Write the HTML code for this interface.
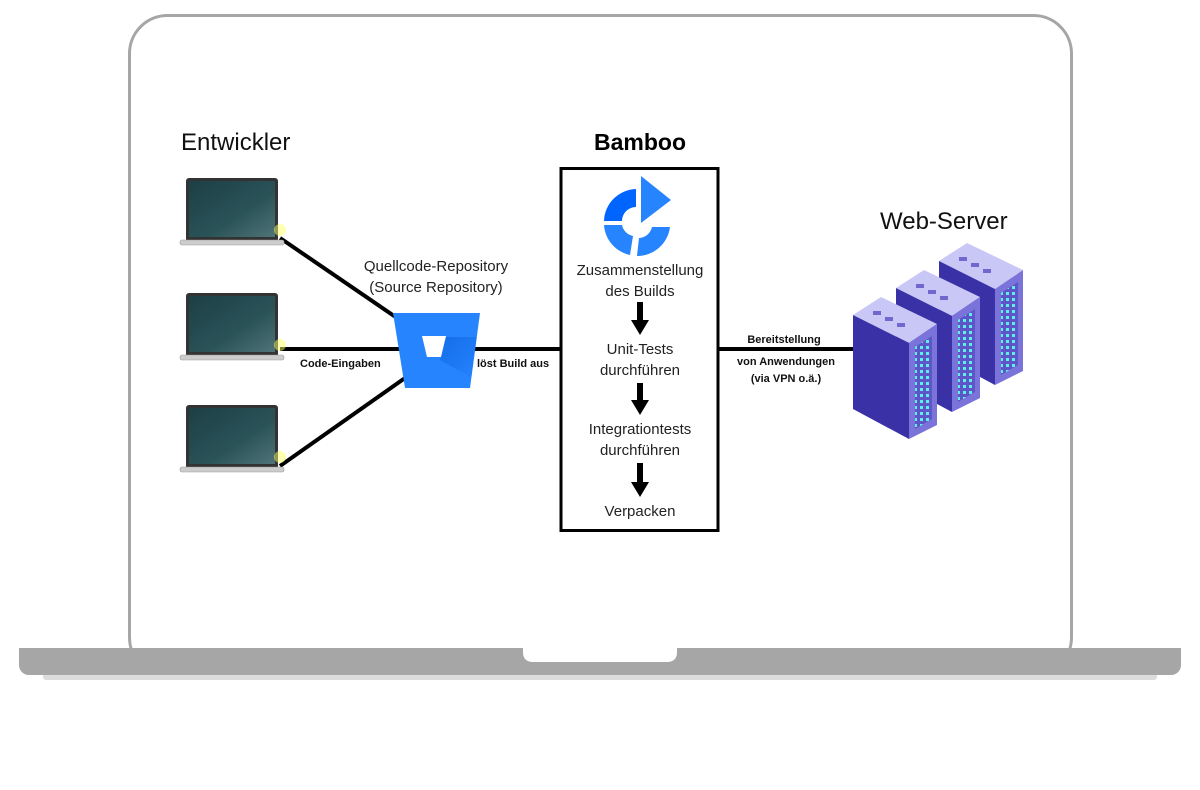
<!DOCTYPE html>
<html><head><meta charset="utf-8"><style>
html,body{margin:0;padding:0;background:#fff;width:1200px;height:790px;overflow:hidden}
text{font-family:"Liberation Sans",sans-serif}
</style></head><body>
<svg width="1200" height="790" viewBox="0 0 1200 790" xmlns="http://www.w3.org/2000/svg">
<defs>
<pattern id="dots" width="6" height="6" patternUnits="userSpaceOnUse"><rect width="6" height="6" fill="#5d55c8"/><rect x="1" y="1" width="3" height="3" fill="#5ef0e6"/></pattern>
<linearGradient id="scr" x1="0" y1="0" x2="1" y2="1"><stop offset="0" stop-color="#1c3f45"/><stop offset="0.6" stop-color="#2a5358"/><stop offset="1" stop-color="#4f7478"/></linearGradient>
<linearGradient id="bb" x1="0" y1="0" x2="1" y2="1"><stop offset="0" stop-color="#0052cc"/><stop offset="1" stop-color="#2684ff"/></linearGradient>
<clipPath id="bbc"><path d="M393 313 H480 L470 388 H405 Z"/></clipPath>
<g id="laptop">
<rect x="6" y="0" width="92" height="64" rx="3" fill="#333"/>
<rect x="9" y="3" width="86" height="56" fill="url(#scr)"/>
<rect x="0" y="62" width="104" height="5" rx="2" fill="#ccc" stroke="#999" stroke-width="0.6"/>
<circle cx="100" cy="52" r="6" fill="#ffff66" opacity="0.5"/>
</g>
<g id="tower">
<polygon points="0,18 28,0 84,27 56,46" fill="#c9c7f6"/>
<polygon points="0,18 56,46 56,142 0,112" fill="#3b31a6"/>
<polygon points="56,46 84,27 84,128 56,142" fill="#7a73d9"/>
<polygon points="62,50 79,39 79,122 62,132" fill="url(#dots)"/>
<g fill="#6f68cf"><rect x="20" y="14" width="8" height="4"/><rect x="32" y="20" width="8" height="4"/><rect x="44" y="26" width="8" height="4"/></g>
</g>
</defs>
<rect x="129.5" y="15.5" width="942" height="660" rx="38" fill="#fff" stroke="#a6a6a6" stroke-width="3"/>
<rect x="43" y="672" width="1114" height="8" rx="3" fill="#dcdcdc"/>
<rect x="19" y="648" width="1162" height="27" rx="10" fill="#a6a6a6"/>
<rect x="19" y="648" width="1162" height="10" fill="#a6a6a6"/>
<path d="M523 648 H677 V652 Q677 662 667 662 H533 Q523 662 523 652 Z" fill="#fff"/>
<g stroke="#000" stroke-width="4" fill="none">
<line x1="280" y1="238" x2="400" y2="320"/>
<line x1="280" y1="349" x2="560" y2="349"/>
<line x1="280" y1="466" x2="405" y2="378"/>
<line x1="719" y1="349" x2="858" y2="349"/>
</g>
<rect x="561" y="168.5" width="157" height="362" fill="none" stroke="#000" stroke-width="3"/>
<use href="#laptop" x="180" y="178"/>
<use href="#laptop" x="180" y="293"/>
<use href="#laptop" x="180" y="405"/>
<path d="M393 313 H480 L470 388 H405 Z" fill="#2684ff"/>
<path d="M446 337 L482 337 L472 378 L440 360 Z" fill="url(#bb)" opacity="0.45" clip-path="url(#bbc)"/>
<path d="M422 336 H446 L441 357 H427 Z" fill="#fff"/>
<path d="M636 189 A33 33 0 0 0 604 221 L622 221 A14 14 0 0 1 636 207 Z" fill="#0065ff"/>
<path d="M604 225 A33 33 0 0 0 630 255 L633 236 A14 14 0 0 1 622 225 Z" fill="#2684ff"/>
<path d="M637 256 A33 33 0 0 0 670 227 L652 227 A14 14 0 0 1 639 238 Z" fill="#2684ff"/>
<path d="M641 176 L671 200 L641 223 Z" fill="#2684ff"/>
<use href="#tower" x="939" y="243"/>
<use href="#tower" x="896" y="270"/>
<use href="#tower" x="853" y="297"/>
<text x="181" y="150" font-size="24" fill="#111">Entwickler</text>
<text x="640" y="150" font-size="23" font-weight="bold" text-anchor="middle" fill="#000">Bamboo</text>
<text x="880" y="229" font-size="24" fill="#111">Web-Server</text>
<g font-size="15" fill="#222" text-anchor="middle">
<text x="436" y="271">Quellcode-Repository</text>
<text x="436" y="292">(Source Repository)</text>
<text x="640" y="275">Zusammenstellung</text>
<text x="640" y="296">des Builds</text>
<text x="640" y="354">Unit-Tests</text>
<text x="640" y="375">durchführen</text>
<text x="640" y="434">Integrationtests</text>
<text x="640" y="455">durchführen</text>
<text x="640" y="516">Verpacken</text>
</g>
<g font-size="11" font-weight="bold" fill="#111">
<text x="300" y="367">Code-Eingaben</text>
<text x="477" y="367">löst Build aus</text>
<text x="784" y="343" text-anchor="middle">Bereitstellung</text>
<text x="786" y="365" text-anchor="middle">von Anwendungen</text>
<text x="786" y="382" text-anchor="middle">(via VPN o.ä.)</text>
</g>
<g fill="#000">
<path d="M637 302 H643 V320 H649 L640 335 L631 320 H637 Z"/>
<path d="M637 383 H643 V400 H649 L640 415 L631 400 H637 Z"/>
<path d="M637 463 H643 V482 H649 L640 497 L631 482 H637 Z"/>
</g>
</svg>
</body></html>
